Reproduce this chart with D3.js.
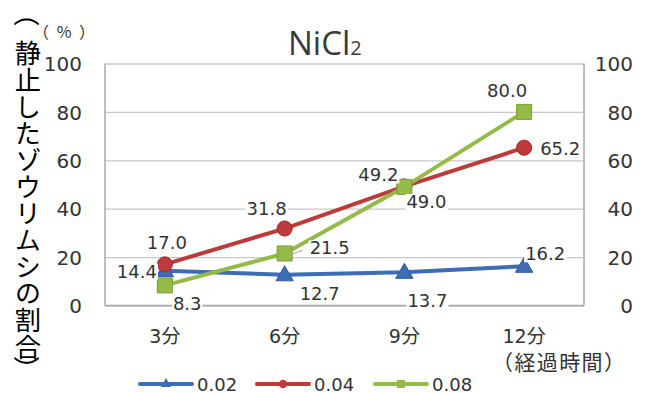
<!DOCTYPE html>
<html>
<head>
<meta charset="utf-8">
<script src="https://cdn.jsdelivr.net/npm/d3@7"></script>
<style>
  html, body { margin: 0; padding: 0; background: #fff; }
  svg { display: block; }
</style>
</head>
<body>
<svg id="chart" width="657" height="393"></svg>
<script>
// Categories (elapsed time) and the three concentration series
const categories = ["3分", "6分", "9分", "12分"];
const seriesNames = ["0.02", "0.04", "0.08"];
const values002 = [14.4, 12.7, 13.7, 16.2];
const values004 = [17.0, 31.8, 49.2, 65.2];
const values008 = [8.3, 21.5, 49.0, 80.0];
const yTicks = [0, 20, 40, 60, 80, 100];
const titleMain = "NiCl";
const titleSub = "2";
const yTitle = "（静止したゾウリムシの割合）";
const yUnit = "（%）";
const xTitle = "（経過時間）";

const svg = d3.select("#chart");
const numFont = "'DejaVu Sans', 'Noto Sans CJK JP', sans-serif";
const jpFont = "'Noto Sans CJK JP', sans-serif";

const plot = { left: 105, right: 584, top: 63.5, bottom: 305.5 };
const x = d3.scaleBand().domain(categories).range([plot.left, plot.right]);
const y = d3.scaleLinear().domain([0, 100]).range([plot.bottom, plot.top]);
const cx = c => x(c) + x.bandwidth() / 2;

// Horizontal gridlines
svg.append("g")
  .attr("transform", `translate(${plot.left},0)`)
  .call(d3.axisLeft(y).tickValues(yTicks).tickSize(-(plot.right - plot.left)).tickFormat(""))
  .call(g => g.select(".domain").remove())
  .call(g => g.selectAll(".tick line").attr("stroke", "#c8c8c8").attr("stroke-width", 1.3));

// Plot frame: left, right and bottom axis lines
svg.append("line").attr("x1", plot.left).attr("x2", plot.left).attr("y1", plot.top).attr("y2", plot.bottom)
  .attr("stroke", "#a8a8a8").attr("stroke-width", 1.5);
svg.append("line").attr("x1", plot.right).attr("x2", plot.right).attr("y1", plot.top).attr("y2", plot.bottom)
  .attr("stroke", "#a8a8a8").attr("stroke-width", 1.5);
svg.append("line").attr("x1", plot.left).attr("x2", plot.right).attr("y1", plot.bottom).attr("y2", plot.bottom)
  .attr("stroke", "#a8a8a8").attr("stroke-width", 1.5);

// Left value axis labels
svg.append("g")
  .attr("transform", "translate(82,0)")
  .call(d3.axisLeft(y).tickValues(yTicks).tickSize(0).tickPadding(0))
  .call(g => g.select(".domain").remove())
  .call(g => g.selectAll("text").attr("font-family", numFont).attr("font-size", 20)
    .attr("fill", "#333").attr("text-anchor", "end").attr("dy", "0.36em"));

// Right value axis labels
svg.append("g")
  .attr("transform", "translate(633,0)")
  .call(d3.axisLeft(y).tickValues(yTicks).tickSize(0).tickPadding(0))
  .call(g => g.select(".domain").remove())
  .call(g => g.selectAll("text").attr("font-family", numFont).attr("font-size", 20)
    .attr("fill", "#333").attr("text-anchor", "end").attr("dy", "0.36em"));

// Category axis labels
svg.append("g")
  .attr("transform", `translate(0,${plot.bottom})`)
  .call(d3.axisBottom(x).tickSize(0).tickPadding(0))
  .call(g => g.select(".domain").remove())
  .call(g => g.selectAll("text").attr("font-family", numFont).attr("font-size", 19)
    .attr("fill", "#333").attr("dy", 0).attr("y", 37));

svg.append("text").attr("x", 492).attr("y", 370)
  .attr("font-family", jpFont).attr("font-size", 21).attr("fill", "#333")
  .attr("textLength", 133).attr("lengthAdjust", "spacing")
  .text(xTitle);

// Chart title with subscript digit
const title = svg.append("text").attr("x", 288).attr("y", 55)
  .attr("font-family", "'Open Sans', sans-serif").attr("font-size", 33).attr("fill", "#3a3a3a");
title.append("tspan").text(titleMain);
title.append("tspan").attr("font-size", 20).text(titleSub);

// Vertical y-axis title: body set in vertical writing, brackets turned a quarter
const titleChars = Array.from(yTitle);
const openBracket = titleChars[0];
const closeBracket = titleChars[titleChars.length - 1];
const titleBody = titleChars.slice(1, -1).join("");

svg.append("text")
  .attr("x", 28).attr("y", 40)
  .attr("font-family", jpFont).attr("font-size", 26.3).attr("fill", "#000")
  .style("writing-mode", "vertical-rl")
  .style("letter-spacing", "0.4px")
  .text(titleBody);
svg.append("text")
  .attr("transform", "translate(28,13.5) rotate(90)")
  .attr("text-anchor", "middle").attr("dominant-baseline", "central")
  .attr("font-family", jpFont).attr("font-size", 26.3).attr("fill", "#000")
  .text(openBracket);
svg.append("text")
  .attr("transform", "translate(28,369) rotate(90)")
  .attr("text-anchor", "middle").attr("dominant-baseline", "central")
  .attr("font-family", jpFont).attr("font-size", 26.3).attr("fill", "#000")
  .text(closeBracket);

svg.append("text").attr("x", 33).attr("y", 38)
  .attr("font-family", jpFont).attr("font-size", 16).attr("fill", "#333")
  .attr("textLength", 62).attr("lengthAdjust", "spacing")
  .text(yUnit);

// Series definitions
const series = [
  { name: seriesNames[0], values: values002, color: "#3d6db4", stroke: "#2f5a9a", symbol: d3.symbolTriangle, size: 130, legendSize: 45,
    labels: [ {anchor: "end", dx: -8, dy: 7}, {anchor: "start", dx: 15, dy: 25}, {anchor: "start", dx: 3, dy: 35}, {anchor: "start", dx: 1, dy: -6} ] },
  { name: seriesNames[1], values: values004, color: "#be3a3a", stroke: "#a32e2e", symbol: d3.symbolCircle, size: 180, legendSize: 55,
    labels: [ {anchor: "middle", dx: 2, dy: -15}, {anchor: "end", dx: 2, dy: -14}, {anchor: "end", dx: -6, dy: -5}, {anchor: "start", dx: 16, dy: 7} ] },
  { name: seriesNames[2], values: values008, color: "#94bb48", stroke: "#7a9e36", symbol: d3.symbolSquare, size: 225, legendSize: 64,
    labels: [ {anchor: "start", dx: 8, dy: 25}, {anchor: "start", dx: 25, dy: 1}, {anchor: "start", dx: 2, dy: 21}, {anchor: "end", dx: 3, dy: -15} ] }
];

const line = d3.line().x((d, i) => cx(categories[i])).y(d => y(d));

series.forEach(s => {
  svg.append("path").datum(s.values)
    .attr("d", line).attr("fill", "none")
    .attr("stroke", s.color).attr("stroke-width", 4).attr("stroke-linejoin", "round");
  svg.append("g").selectAll("path").data(s.values).join("path")
    .attr("transform", (d, i) => `translate(${cx(categories[i])},${y(d) + (s.symbol === d3.symbolTriangle ? 1 : 0)})`)
    .attr("d", d3.symbol(s.symbol, s.size))
    .attr("fill", s.color).attr("stroke", s.stroke).attr("stroke-width", 1);
});

// Leader line for the 21.5 label
svg.append("line")
  .attr("x1", cx(categories[1]) + 3).attr("y1", y(values008[1]) + 2)
  .attr("x2", cx(categories[1]) + 18).attr("y2", y(values008[1]) - 3)
  .attr("stroke", "#a0a0a0").attr("stroke-width", 1);

// Data labels on white boxes
const labelLayer = svg.append("g");
series.forEach(s => {
  s.values.forEach((v, i) => {
    const lp = s.labels[i];
    const g = labelLayer.append("g");
    const t = g.append("text")
      .attr("x", cx(categories[i]) + lp.dx).attr("y", y(v) + lp.dy)
      .attr("text-anchor", lp.anchor)
      .attr("font-family", numFont).attr("font-size", 18).attr("fill", "#333")
      .text(v.toFixed(1));
    const b = t.node().getBBox();
    g.insert("rect", "text")
      .attr("x", b.x - 1).attr("y", b.y + 3).attr("width", b.width + 2).attr("height", b.height - 5)
      .attr("fill", "#fff");
  });
});

// Legend
const legendX = [140, 257, 375];
series.forEach((s, i) => {
  const g = svg.append("g").attr("transform", `translate(${legendX[i]},384)`);
  g.append("line").attr("x1", 0).attr("x2", 52).attr("y1", 0).attr("y2", 0)
    .attr("stroke", s.color).attr("stroke-width", 4).attr("stroke-linecap", "round");
  g.append("path").attr("transform", "translate(26,0)")
    .attr("d", d3.symbol(s.symbol, s.legendSize)).attr("fill", s.color);
  g.append("text").attr("x", 57).attr("y", 6.5)
    .attr("font-family", numFont).attr("font-size", 18).attr("fill", "#333")
    .text(s.name);
});
</script>
</body>
</html>
